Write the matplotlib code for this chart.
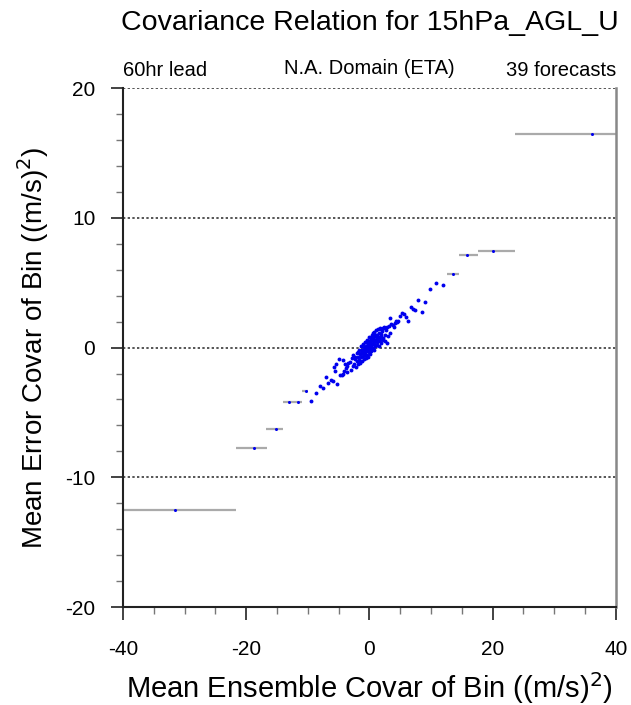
import matplotlib
matplotlib.use("Agg")
import matplotlib.pyplot as plt
from matplotlib.ticker import MultipleLocator

plt.rcParams['font.family'] = ['Liberation Sans', 'DejaVu Sans']
plt.rcParams['axes.unicode_minus'] = False

# --- wide bins (mean, bin range) ---
bin_x = [-31.6, -18.75, -15.2, -13.0, -11.6, -10.36, 13.5, 15.9, 20.0, 36.2]
bin_y = [-12.55, -7.75, -6.28, -4.18, -4.22, -3.33, 5.66, 7.15, 7.41, 16.5]
bin_lo = [-45.0, -21.7, -16.8, -14.0, -12.1, -10.9, 12.6, 14.5, 17.6, 23.7]
bin_hi = [-21.7, -16.6, -14.0, -12.1, -11.0, -9.9, 14.5, 17.6, 23.7, 48.0]

# --- narrow bins (mean ensemble covar, mean error covar) ---
ens_cov = [
    # tails
    -9.45, -8.73, -8.04, -7.55, -7.11, -6.69, -6.3, -5.97, -5.28, -5.8,
    -5.55, -4.95, -4.79, -4.25, -4.19, -4.3, -3.93, -3.7, -3.44, -3.81, -5.44, -4.5,
    10.8, 9.82, 7.82, 9.06, 8.47, 6.74, 7.11, 7.44, 6.25, 5.55,
    5.28, 5.88, 5.0, 4.68, 4.3, 4.09, 3.38, 3.54, 2.89, 4.03,
    2.57, 1.82, 3.86, 4.4, 2.24, 2.89, 11.9,
    # core
    -3.6, -3.2, -3.0, -2.85, -2.7, -2.6, -2.45, -2.35, -2.2, -2.1,
    -2.0, -1.9, -1.85, -1.7, -1.65, -1.55, -1.5, -1.4, -1.35, -1.3,
    -1.2, -1.15, -1.1, -1.0, -0.95, -0.9, -0.85, -0.8, -0.7, -0.65,
    -0.6, -0.55, -0.5, -0.45, -0.4, -0.35, -0.3, -0.25, -0.2, -0.15,
    -0.1, -0.05, 0.0, 0.05, 0.1, 0.15, 0.2, 0.25, 0.3, 0.35,
    0.4, 0.45, 0.5, 0.55, 0.6, 0.65, 0.7, 0.75, 0.8, 0.85,
    0.9, 0.95, 1.0, 1.1, 1.15, 1.2, 1.3, 1.35, 1.45, 1.5,
    1.6, 1.7, 1.75, 1.85, 1.95, 2.05, 2.15, 2.3, 2.45, 2.6,
    2.75, 2.95, 3.1, 3.3,
    -1.8, -1.25, -0.75, -0.5, -0.3, -0.1, 0.0, 0.1, 0.2, 0.3,
    0.45, 0.6, 0.7, 0.9, 1.05, 1.25, 1.4, 1.65, 1.9, 2.2,
    -2.4, -1.05, 0.8, 0.25, -0.65,
]
err_cov = [
    -4.12, -3.48, -2.97, -3.15, -2.27, -2.76, -2.5, -2.55, -2.84, -1.48,
    -1.81, -0.89, -2.09, -0.96, -1.81, -2.07, -1.27, -1.4, -1.22, -1.6, -1.3, -2.1,
    4.99, 4.49, 3.64, 3.48, 2.71, 3.10, 2.94, 2.89, 2.07, 2.58,
    2.68, 2.37, 2.43, 2.04, 2.07, 1.87, 2.25, 1.81, 1.6, 1.6,
    1.53, 1.45, 1.73, 1.99, 1.48, 0.37, 4.79,
    -1.9, -1.1, -1.75, -0.8, -1.45, -0.55, -1.25, -0.9, -1.5, -0.4,
    -1.05, -0.7, -1.3, -0.2, -0.95, -0.5, -1.2, -0.75, 0.1, -0.45,
    -1.0, -0.2, -0.65, 0.25, -0.85, -0.35, 0.05, -0.6, -0.1, 0.4,
    -0.8, -0.3, 0.15, -0.55, 0.6, -0.15, 0.3, -0.7, 0.05, 0.5,
    -0.35, 0.2, 0.85, -0.1, 0.4, -0.5, 0.65, 0.1, -0.25, 0.95,
    0.3, -0.05, 0.55, 1.1, 0.0, 0.75, 0.25, 1.2, -0.15, 0.5,
    0.9, 0.15, 1.35, 0.6, 0.2, 1.0, 0.45, 1.4, 0.8, 0.1,
    1.15, 0.55, 1.5, 0.9, 0.35, 1.3, 0.75, 1.55, 1.0, 0.5,
    1.35, 0.9, 1.7, 1.1,
    -0.35, -0.15, -0.4, 0.45, 0.0, 0.1, -0.2, 0.2, -0.05, 0.55,
    0.85, 0.35, 0.9, 0.6, 0.95, 0.7, 0.5, 0.8, 1.05, 0.6,
    -0.75, -0.45, 0.55, 0.75, -0.25,
]

fig = plt.figure(figsize=(6.31, 7.05), dpi=100)
ax = fig.add_axes([0.195, 0.139, 0.781, 0.736])

# dotted reference lines
for yv in [-10, 0, 10, 20]:
    ax.axhline(yv, color='#555555', lw=1.4, ls=(0, (1.2, 1.2)), zorder=1)

ax.hlines(bin_y, bin_lo, bin_hi, color='#aaaaaa', lw=1.6, zorder=2)
ax.plot(bin_x, bin_y, 'o', color='#0000ee', ms=2.2, mew=0, zorder=3)
ax.plot(ens_cov, err_cov, 'o', color='#0000ee', ms=2.8, mew=0, zorder=3)

ax.set_xlim(-40, 40)
ax.set_ylim(-20, 20)
ax.xaxis.set_major_locator(MultipleLocator(20))
ax.xaxis.set_minor_locator(MultipleLocator(5))
ax.yaxis.set_major_locator(MultipleLocator(10))
ax.yaxis.set_minor_locator(MultipleLocator(2))
ax.tick_params(which='major', direction='out', length=9, width=1.2, labelsize=15, pad=11, color='#222222')
ax.tick_params(axis='x', which='major', pad=15)
ax.tick_params(which='minor', direction='out', length=5, width=1.0, color='#777777')
ax.tick_params(top=False, right=False)

for s in ['left', 'bottom']:
    ax.spines[s].set_linewidth(1.5)
    ax.spines[s].set_color('#222222')
ax.spines['right'].set_color('#888888')
ax.spines['right'].set_linewidth(1.8)
ax.spines['top'].set_visible(False)

ax.set_xlabel('Mean Ensemble Covar of Bin ((m/s)$^2$)', fontsize=21, labelpad=8)
ax.set_ylabel('Mean Error Covar of Bin ((m/s)$^2$)', fontsize=20, labelpad=10)

fig.text(0.586, 0.968, 'Covariance Relation for 15hPa_AGL_U', fontsize=20.5, ha='center', va='center')
ax.text(0.0, 1.015, '60hr lead', transform=ax.transAxes, fontsize=14.5, ha='left', va='bottom')
ax.text(0.5, 1.02, 'N.A. Domain (ETA)', transform=ax.transAxes, fontsize=14.5, ha='center', va='bottom')
ax.text(1.0, 1.015, '39 forecasts', transform=ax.transAxes, fontsize=14.5, ha='right', va='bottom')

fig.savefig('out.png', dpi=100)
